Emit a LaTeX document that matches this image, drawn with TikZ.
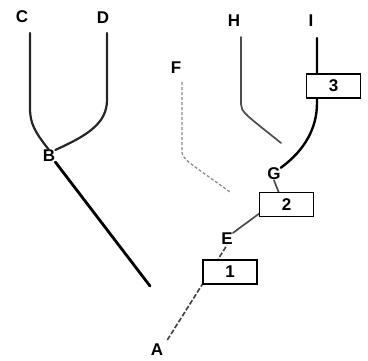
\documentclass[tikz,border=0pt]{standalone}
\usepackage{fontspec}
\setmainfont{Liberation Sans}
\begin{document}
\begin{tikzpicture}[x=1pt,y=-1pt,
  lbl/.style={font=\fontsize{17}{17}\selectfont\bfseries, inner sep=0pt},
  numbox/.style={draw=black, line width=1.3pt, fill=white, minimum width=54pt, minimum height=24pt, inner sep=0pt, font=\fontsize{17}{17}\selectfont\bfseries},
  darkbr/.style={draw=black!85, line width=2.2pt, line cap=round},
  midbr/.style={draw=black!70, line width=1.7pt, line cap=round},
  lightbr/.style={draw=black!45, line width=1.3pt, dash pattern=on 3pt off 2pt},
  trunk/.style={draw=black, line width=2.4pt, line cap=round},
  faint/.style={draw=black!75, line width=1.6pt, dash pattern=on 5pt off 2pt}]
\useasboundingbox (0,0) rectangle (368,360);
% labels
\node[lbl] (C) at (22,17) {C};
\node[lbl] (D) at (103,18) {D};
\node[lbl] (F) at (176,68) {F};
\node[lbl] (H) at (234,21) {H};
\node[lbl] (I) at (311,21) {I};
\node[lbl] (B) at (49,156) {B};
\node[lbl] (G) at (274,174) {G};
\node[lbl] (E) at (227,239) {E};
\node[lbl] (A) at (157,350) {A};
% named end points
\coordinate (c0) at (30,33);
\coordinate (d0) at (107,33);
\coordinate (f0) at (182,82);
\coordinate (f1) at (230,192);
\coordinate (h0) at (241,37);
\coordinate (h1) at (281,143);
\coordinate (i0) at (317,38);
\coordinate (b1) at (150,286);
% branches
\draw[darkbr] (c0) -- (30,108) .. controls (30,124) and (35,132) .. (B.north);
\draw[darkbr] (d0) -- (107,100) .. controls (107,124) and (86,136) .. (B.north east);
\draw[lightbr] (f0) -- (182,152) .. controls (183,160) and (190,163) .. (f1);
\draw[midbr] (h0) -- (241,104) .. controls (241,112) and (245,114) .. (h1);
\draw[trunk, line width=2.8pt] (B.south east) -- (b1);
% trunk
\draw[faint] (A.north east) ++(4,-4) -- (E.south);
\draw[midbr] (E.north east) -- (260,213);
\draw[trunk] (G.north east) .. controls (305,150) and (317,128) .. (317,103) -- (i0);
\draw[midbr] (279,193) -- (G.south);
% boxes
\node[numbox] (n1) at (230,272) {1};
\node[numbox] (n2) at (286.5,204.5) {2};
\node[numbox] (n3) at (333.5,86) {3};
\end{tikzpicture}
\end{document}
